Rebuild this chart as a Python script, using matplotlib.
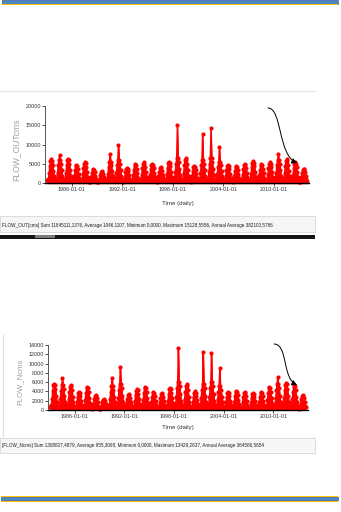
import datetime as dt
import numpy as np
import matplotlib
matplotlib.use("Agg")
import matplotlib.pyplot as plt
import matplotlib.dates as mdates
from matplotlib.patches import Rectangle, FancyArrowPatch
from matplotlib.path import Path

plt.rcParams['font.family'] = ['Liberation Sans Narrow', 'Liberation Sans', 'DejaVu Sans']

# hydrologic years shown on both charts
years = list(range(1983, 2014))

# annual snowmelt peaks, outflow [cms]
peak_out = [6200, 6500, 6400, 4700, 5500, 3600, 3100, 6000, 6500, 4000,
            4900, 5400, 5100, 4200, 5600, 7000, 6500, 4500, 6500, 7000,
            6000, 4700, 4400, 5100, 5700, 4900, 5400, 6500, 6200, 5400, 3800]
spike_years_out = [1984, 1990, 1991, 1998, 2001, 2002, 2003, 2010]
spike_vals_out = [7300, 7700, 10000, 15128.5556, 12650, 14200, 9400, 7500]

# annual peaks, natural flow [cms]
peak_nat = [5700, 5800, 5400, 3900, 5000, 3200, 2400, 5500, 6000, 3400,
            4500, 5000, 3900, 3600, 4800, 6500, 5500, 4000, 6000, 6500,
            5500, 3900, 4100, 3900, 3600, 3900, 5000, 6000, 5900, 5400, 3200]
spike_years_nat = [1984, 1990, 1991, 1998, 2001, 2002, 2003, 2010]
spike_vals_nat = [6800, 7000, 9300, 13429.2637, 12400, 12200, 9000, 7200]

# share of the annual peak reached in each month (Jan..Dec)
month_share = [0.12, 0.1, 0.18, 0.42, 0.72, 0.93, 1.0, 0.94, 0.78, 0.52, 0.3, 0.17]

stats_out = ("FLOW_OUT[cms] Sum 11845111,1376, Average 1046,1107, Minimum 0,0000, "
             "Maximum 15128,5556, Annual Average 382100,5786")
stats_nat = ("[FLOW_Ncms] Sum 1308827,4879, Average 955,3098, Minimum 0,0000, "
             "Maximum 13429,2637, Annual Average 364586,5654")

W, H = 341, 512


def box(x0, y0, x1, y1):
    return [x0 / W, 1 - y1 / H, (x1 - x0) / W, (y1 - y0) / H]


def monthly_series(peaks, spike_years, spike_vals):
    dates, vals = [], []
    for yr, pk in zip(years, peaks):
        for m, share in enumerate(month_share):
            dates.append(dt.datetime(yr, m + 1, 15))
            vals.append(pk * share)
        if yr in spike_years:
            vals[-6] = spike_vals[spike_years.index(yr)]
    return dates, np.array(vals)


def flow_chart(rect, peaks, spike_years, spike_vals, top, step):
    ax = fig.add_axes(rect)
    dates, vals = monthly_series(peaks, spike_years, spike_vals)
    ax.fill_between(dates, vals, 0, color='#ff0000', lw=0.6, clip_on=False)
    ax.plot(dates, vals, color='#ff0000', lw=1.0, marker='o', ms=3.0,
            mew=0, clip_on=False)
    ax.set_xlim(dt.datetime(1982, 10, 20), dt.datetime(2014, 3, 10))
    ax.set_ylim(0, top)
    ax.set_yticks(np.arange(0, top + 1, step))
    ax.set_xticks([dt.datetime(y, 1, 1) for y in (1986, 1992, 1998, 2004, 2010)])
    ax.xaxis.set_major_formatter(mdates.DateFormatter('%Y-%m-%d'))
    ax.patch.set_visible(False)
    for s in ('top', 'right'):
        ax.spines[s].set_visible(False)
    ax.spines['left'].set_color('#555555')
    ax.spines['left'].set_linewidth(0.7)
    ax.spines['bottom'].set_color('#000000')
    ax.spines['bottom'].set_linewidth(1.0)
    ax.tick_params(axis='both', labelsize=3.9, colors='#333333', length=2,
                   width=0.6, pad=1)
    return ax


fig = plt.figure(figsize=(W / 100, H / 100), dpi=100)

flow_chart(box(45, 106, 309, 183.3), peak_out, spike_years_out, spike_vals_out,
           20000, 5000)
flow_chart(box(48, 345, 308, 410), peak_nat, spike_years_nat, spike_vals_nat,
           14000, 2000)

# page decorations, labels and status bars in pixel coordinates
ov = fig.add_axes([0, 0, 1, 1])
ov.set_xlim(0, W)
ov.set_ylim(H, 0)
ov.axis('off')


def band(x0, y0, x1, y1, color, edge=None):
    ov.add_patch(Rectangle((x0, y0), x1 - x0, y1 - y0, facecolor=color,
                           edgecolor=edge if edge else 'none', lw=0.5))


# header and footer rules
band(2, 0, 338, 3.7, '#4f87c6', '#2f5f96')
band(2, 3.7, 338, 5.0, '#ffc000')
band(1, 495.7, 338, 496.7, '#ffc000')
band(1, 496.9, 338, 500.3, '#4f87c6', '#2f5f96')
band(1, 500.7, 338, 501.7, '#ffc000')

# first chart frame
ov.plot([0, 315], [91, 91], color='#e4e4e4', lw=0.8)
band(0, 216, 315, 232, '#f6f6f6', '#cfcfcf')
band(0, 235, 315, 238.5, '#151515')
band(35, 235.4, 55, 238.1, '#7a7a7a')
ov.text(2, 226, stats_out, fontsize=3.35, color='#1e1e1e', va='center', ha='left')
ov.text(16, 150, "FLOW_OUTcms", rotation=90, fontsize=6.2, color='#a0a0a0',
        ha='center', va='center')
ov.text(178, 204, "Time (daily)", fontsize=4.4, color='#333333',
        ha='center', va='center')

# second chart frame
ov.plot([3, 3], [335, 438], color='#e0e0e0', lw=0.8)
band(0, 438, 315, 453, '#f7f7f7', '#cfcfcf')
ov.text(2, 445.5, stats_nat, fontsize=3.35, color='#1e1e1e', va='center', ha='left')
ov.text(20, 382, "FLOW_Ncms", rotation=90, fontsize=5.6, color='#a0a0a0',
        ha='center', va='center')
ov.text(178, 428, "Time (daily)", fontsize=4.4, color='#333333',
        ha='center', va='center')


def curved_arrow(p0, p1, p2, p3):
    path = Path([p0, p1, p2, p3], [Path.MOVETO, Path.CURVE4, Path.CURVE4, Path.CURVE4])
    ov.add_patch(FancyArrowPatch(path=path, arrowstyle='-|>,head_length=3,head_width=1.6',
                                 mutation_scale=1, lw=0.7, color='black'))


curved_arrow((268, 108), (282, 108), (278, 155), (297, 163))
curved_arrow((274, 344), (288, 344), (282, 378), (297, 385))

fig.savefig("out.png", dpi=100)
